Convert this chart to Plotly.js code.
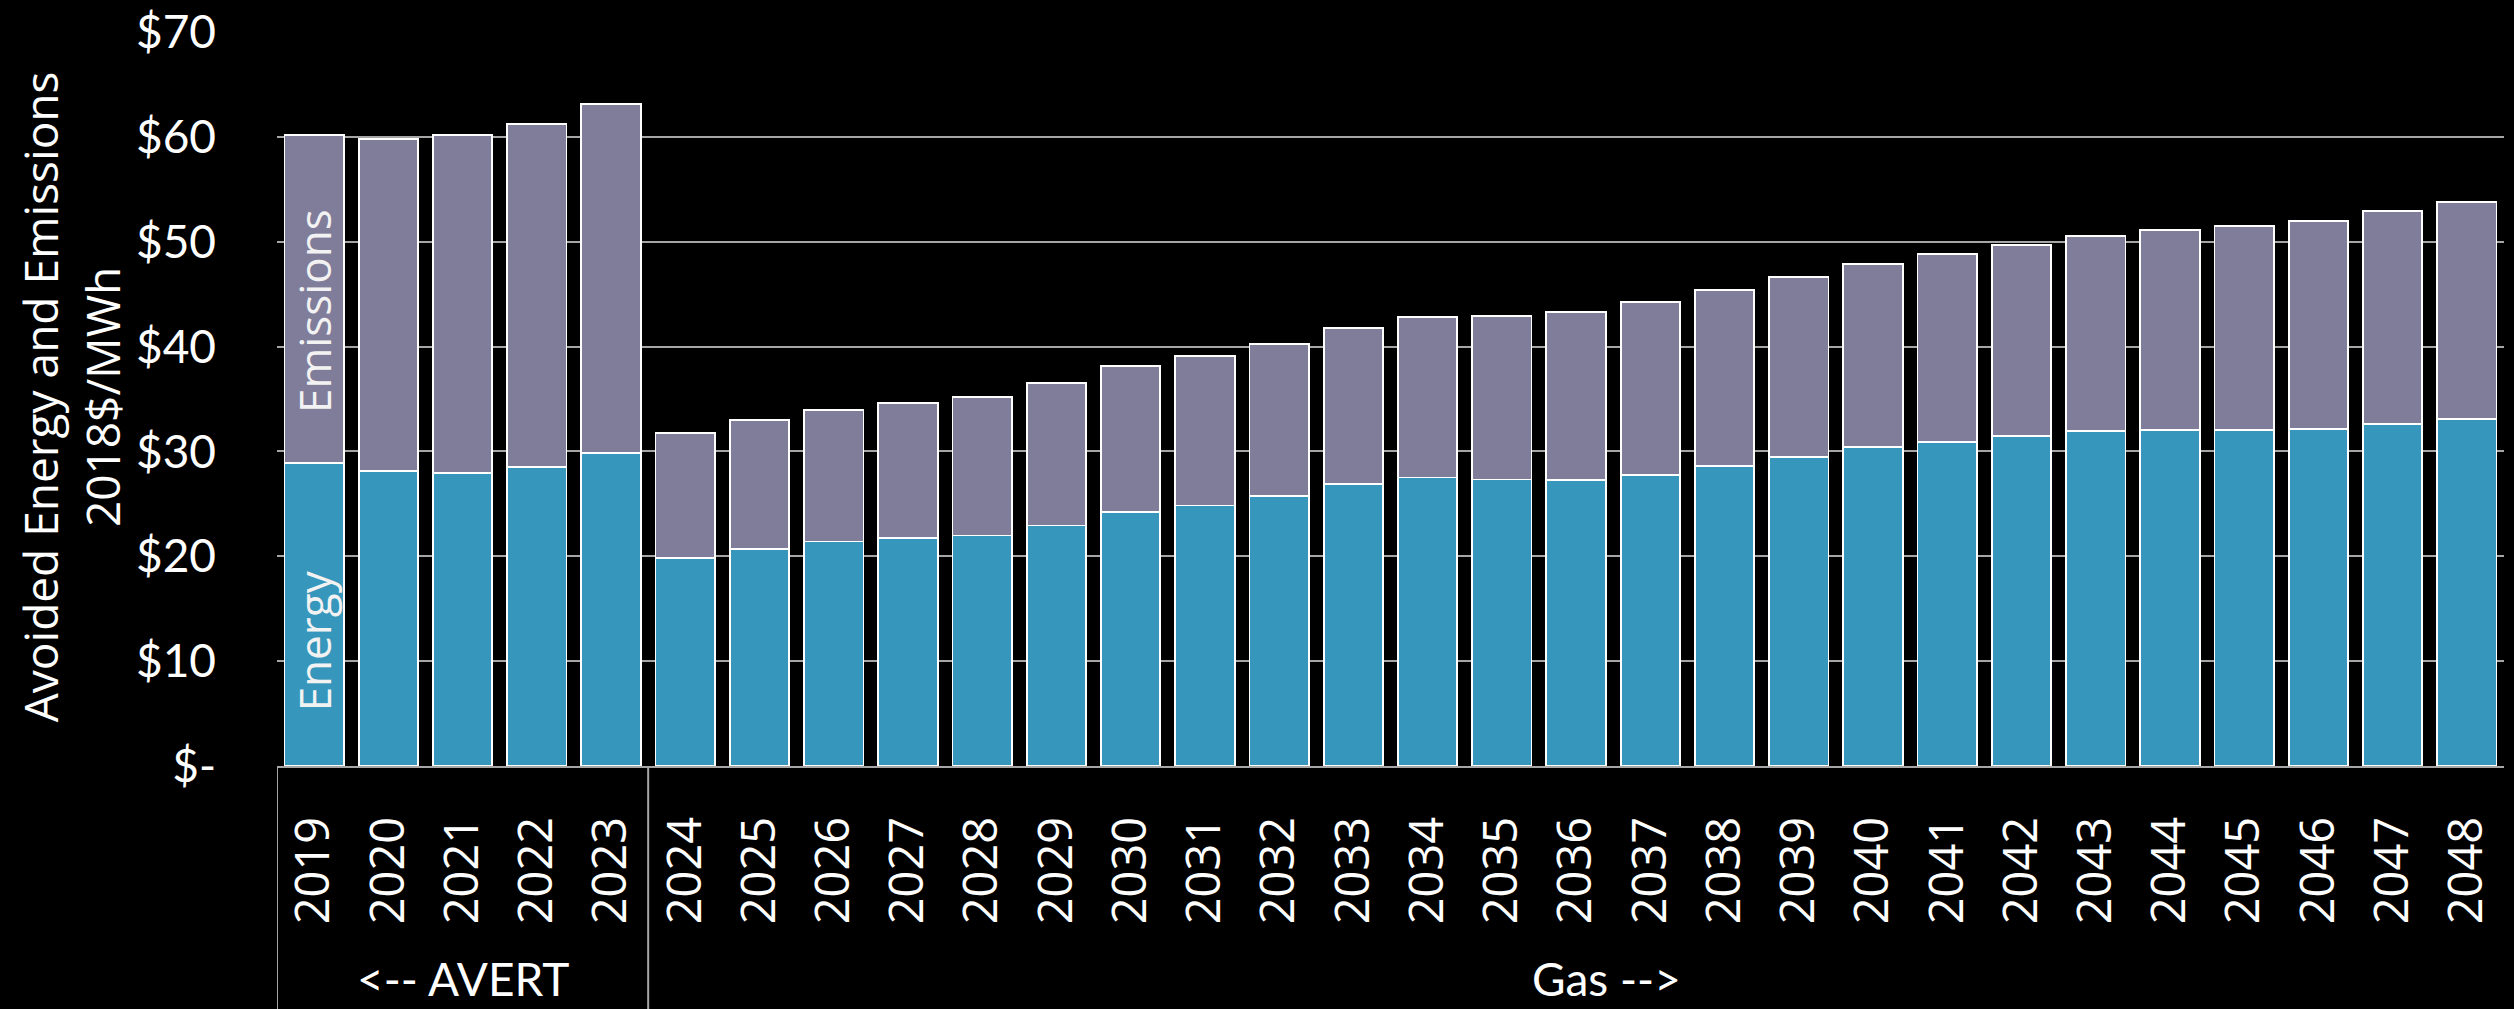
<!DOCTYPE html>
<html>
<head>
<meta charset="utf-8">
<script src="https://cdn.plot.ly/plotly-3.0.1.min.js"></script>
<style>
  html, body { margin: 0; padding: 0; background: #000; }
  #chart { width: 2514px; height: 1009px; }
</style>
</head>
<body>
<div id="chart"></div>
<script>
// ---- data ----
const years = ['2019','2020','2021','2022','2023','2024','2025','2026','2027','2028',
               '2029','2030','2031','2032','2033','2034','2035','2036','2037','2038',
               '2039','2040','2041','2042','2043','2044','2045','2046','2047','2048'];
const energy = [28.90, 28.15, 27.96, 28.53, 29.84, 19.82, 20.71, 21.41, 21.73, 21.98,
                22.94, 24.20, 24.85, 25.73, 26.88, 27.52, 27.33, 27.26, 27.77, 28.60,
                29.50, 30.41, 30.89, 31.46, 31.94, 32.03, 32.03, 32.16, 32.60, 33.11];
const emissions = [31.25, 31.68, 32.19, 32.73, 33.26, 11.93, 12.25, 12.56, 12.87, 13.23,
                   13.56, 13.94, 14.25, 14.54, 14.89, 15.30, 15.58, 16.00, 16.45, 16.76,
                   17.15, 17.49, 17.91, 18.22, 18.63, 19.05, 19.44, 19.84, 20.30, 20.68];
const groups = ['<-- AVERT', 'Gas -->'];
const groupSizes = [5, 25];
const yTickVals = [0, 10, 20, 30, 40, 50, 60, 70];
const yTickText = ['$-', '$10', '$20', '$30', '$40', '$50', '$60', '$70'];
const seriesNames = ['Energy', 'Emissions'];
const yTitleLines = ['Avoided Energy and Emissions', '2018$/MWh'];

// ---- styling ----
const energyColor = '#3696bc';
const emissionsColor = '#807d9b';
const gridColor = '#a6a6a6';

const traces = [
  {
    type: 'bar', name: seriesNames[0], x: years, y: energy,
    marker: { color: energyColor, line: { color: '#ffffff', width: 1.8 } },
    hoverinfo: 'skip'
  },
  {
    type: 'bar', name: seriesNames[1], x: years, y: emissions,
    marker: { color: emissionsColor, line: { color: '#ffffff', width: 1.8 } },
    hoverinfo: 'skip'
  }
];

// group labels and dividers derived from the group arrays
const annotations = [];
const shapes = [];
const groupShift = [0, 30];
let start = 0;
groups.forEach((g, i) => {
  const end = start + groupSizes[i] - 1;
  annotations.push({
    text: g, xref: 'x', yref: 'paper', x: (start + end) / 2, y: -0.289,
    xanchor: 'center', yanchor: 'middle', showarrow: false, xshift: groupShift[i],
    font: { family: 'Lato', size: 46, color: '#ffffff' }
  });
  shapes.push({
    type: 'line', xref: 'x', yref: 'paper', x0: start - 0.5, x1: start - 0.5,
    y0: 0, y1: -0.34, line: { color: gridColor, width: 2 }
  });
  start = end + 1;
});

// in-bar series labels on the first category (index 0)
annotations.push({
  text: seriesNames[1], xref: 'x', yref: 'y', x: 0, y: 43.4,
  textangle: -90, xanchor: 'center', yanchor: 'middle', showarrow: false,
  font: { family: 'Open Sans', size: 44, color: '#f2f2f2' }
});
annotations.push({
  text: seriesNames[0], xref: 'x', yref: 'y', x: 0, y: 11.9,
  textangle: -90, xanchor: 'center', yanchor: 'middle', showarrow: false,
  font: { family: 'Open Sans', size: 44, color: '#f2f2f2' }
});

// y-axis title (two lines, spaced as in the reference)
const titleX = [-0.1064, -0.0786];
yTitleLines.forEach((t, i) => {
  annotations.push({
    text: t, xref: 'paper', yref: 'paper', x: titleX[i], y: 0.5025,
    textangle: -90, xanchor: 'center', yanchor: 'middle', showarrow: false,
    font: { family: 'Open Sans', size: 46, color: '#ffffff' }
  });
});

const layout = {
  width: 2514, height: 1009,
  paper_bgcolor: '#000000', plot_bgcolor: '#000000',
  margin: { l: 277, r: 10, t: 32, b: 243 },
  barmode: 'stack', bargap: 0.2,
  showlegend: false,
  xaxis: {
    type: 'category', range: [-0.5, years.length - 0.5],
    showgrid: false, zeroline: false,
    showline: true, linecolor: gridColor, linewidth: 2,
    ticks: '', tickangle: -90, ticklabelstandoff: 30,
    tickfont: { family: 'Open Sans', size: 47, color: '#ffffff' },
    fixedrange: true
  },
  yaxis: {
    range: [0, 70], tickvals: yTickVals, ticktext: yTickText,
    showgrid: true, gridcolor: gridColor, gridwidth: 2,
    zeroline: false, showline: false, ticks: '',
    ticklabelstandoff: 60,
    tickfont: { family: 'Lato', size: 46, color: '#ffffff' },
    fixedrange: true
  },
  annotations: annotations,
  shapes: shapes
};

Plotly.newPlot('chart', traces, layout, { staticPlot: true, displayModeBar: false });
</script>
</body>
</html>
